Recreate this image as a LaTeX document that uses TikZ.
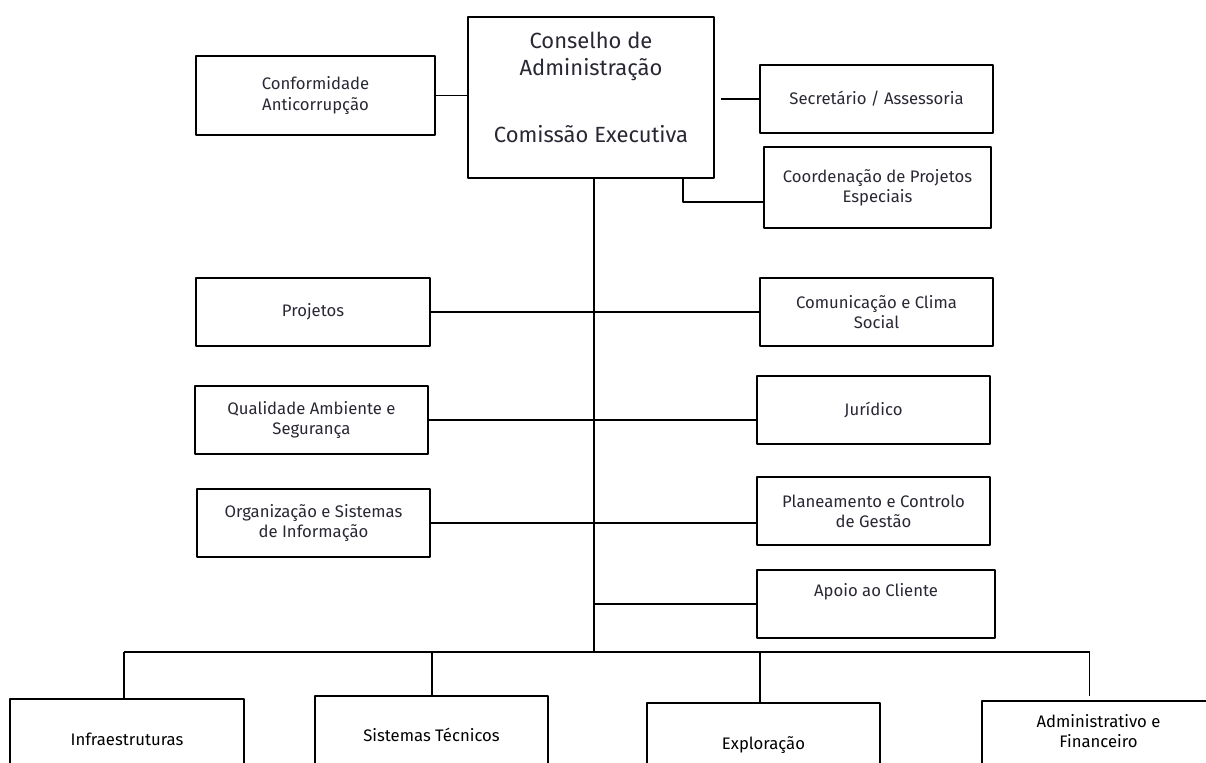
\documentclass[tikz,border=0pt]{standalone}
\usepackage{fontspec}
\setsansfont{Fira Sans}
\definecolor{inkgray}{RGB}{40,40,52}
\tikzset{
  unitbox/.style={draw, line width=1.1pt, align=center, text=inkgray, minimum width=4.66cm, minimum height=1.36cm, inner sep=2pt},
  lowbox/.style={unitbox, anchor=north, inner ysep=0pt, text=black, text depth=1.3cm},
  link/.style={line width=0.9pt}
}
\begin{document}
\begin{tikzpicture}[x=0.02cm, y=-0.02cm, line join=round, font=\sffamily\fontsize{9.5}{11.5}\selectfont]
\useasboundingbox (0,0) rectangle (1206,762);
\node[unitbox, anchor=north, inner ysep=0pt, minimum width=4.92cm, text height=2.52cm, text depth=0.7cm, font=\sffamily\fontsize{12.5}{15.3}\selectfont] (board) at (591,16) {Conselho de\\Administração\\[23pt]Comissão Executiva};
\node[unitbox, minimum width=4.78cm, minimum height=1.58cm] (compl) at (315.5,95.5) {Conformidade\\Anticorrupção};
\node[unitbox] (secr) at (876.5,99) {Secretário / Assessoria};
\node[unitbox, minimum width=4.54cm, minimum height=1.62cm] (coord) at (877.5,187.5) {Coordenação de Projetos\\Especiais};
\node[unitbox, minimum width=4.68cm] (proj) at (313,312) {Projetos};
\node[unitbox] (comm) at (876.5,312) {Comunicação e Clima\\Social};
\node[unitbox] (qual) at (311.5,420) {Qualidade Ambiente e\\Segurança};
\node[unitbox] (legal) at (873.5,410) {Jurídico};
\node[unitbox] (orgsi) at (313.5,523) {Organização e Sistemas\\de Informação};
\node[unitbox] (plan) at (873.5,511) {Planeamento e Controlo\\de Gestão};
\node[unitbox, anchor=north, inner ysep=0pt, minimum width=4.76cm, text height=0.52cm, text depth=0.82cm] (client) at (876,569) {Apoio ao Cliente};
\node[lowbox, minimum width=4.68cm, text height=0.94cm] (infra) at (127,698) {Infraestruturas};
\node[lowbox, text height=0.92cm] (techs) at (431.5,695) {Sistemas Técnicos};
\node[lowbox, text height=0.94cm] (oper) at (763.5,702) {Exploração};
\node[lowbox, text height=0.94cm] (admin) at (1098.5,700) {Administrativo e\\Financeiro};
\coordinate (cbend) at (683,202);
\coordinate (bus) at (594,652);
\draw[link]
  (compl.east) -- (compl.east -| board.west)
  (secr.west) -- ([xshift=0.12cm]secr.west -| board.east)
  (board.south -| cbend) -- (cbend) -- (cbend -| coord.west)
  (board.south -| bus) -- (bus)
  (proj.east) -- (comm.west)
  (qual.east) -- (qual.east -| legal.west)
  (orgsi.east) -- (orgsi.east -| plan.west)
  (client.west -| bus) -- (client.west)
  ([xshift=-0.06cm]infra.north |- bus) -- ([xshift=-0.18cm]admin.north |- bus)
  ;
\draw[link, shorten >=0.08cm]
  ([xshift=-0.06cm]infra.north |- bus) -- ([xshift=-0.06cm]infra.north)
  ([xshift=0.01cm]techs.north |- bus) -- ([xshift=0.01cm]techs.north)
  ([xshift=-0.07cm]oper.north |- bus) -- ([xshift=-0.07cm]oper.north)
  ([xshift=-0.18cm]admin.north |- bus) -- ([xshift=-0.18cm]admin.north)
  ;
\end{tikzpicture}
\end{document}
